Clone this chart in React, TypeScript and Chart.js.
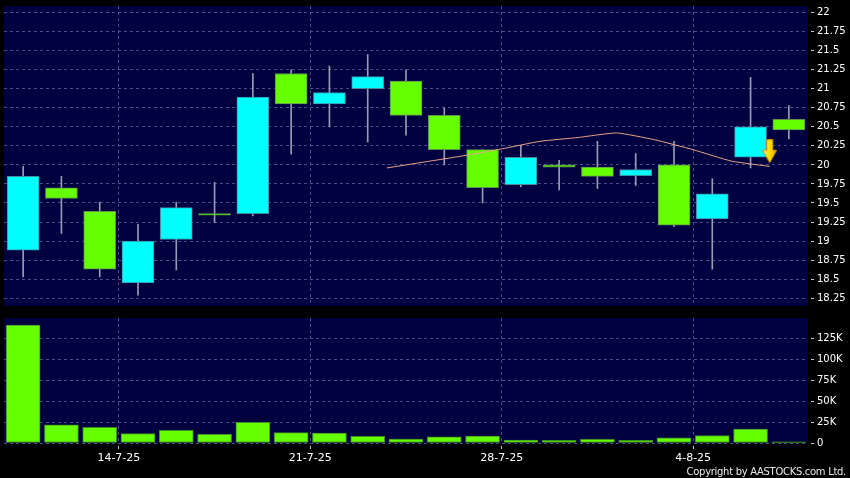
import React, { useEffect, useRef } from 'react';
import { Chart, registerables } from 'chart.js';
Chart.register(...registerables);

// ---- data ----
const dates = ['9-7-25', '10-7-25', '11-7-25', '14-7-25', '15-7-25', '16-7-25', '17-7-25', '18-7-25', '21-7-25', '22-7-25', '23-7-25', '24-7-25', '25-7-25', '28-7-25', '29-7-25', '30-7-25', '31-7-25', '1-8-25', '4-8-25', '5-8-25', '6-8-25'];
const openP = [18.88, 19.70, 19.39, 18.45, 19.02, 19.36, 19.36, 21.20, 20.80, 21.00, 21.10, 20.65, 20.20, 19.74, 20.00, 19.97, 19.86, 20.00, 19.29, 20.10, 20.60];
const highP = [19.98, 19.85, 19.51, 19.22, 19.51, 19.77, 21.20, 21.25, 21.30, 21.45, 21.25, 20.75, 20.20, 20.25, 20.06, 20.31, 20.15, 20.31, 19.82, 21.15, 20.78];
const lowP = [18.53, 19.10, 18.53, 18.29, 18.62, 19.24, 19.33, 20.14, 20.50, 20.30, 20.39, 20.00, 19.50, 19.71, 19.67, 19.69, 19.73, 19.19, 18.63, 19.96, 20.34];
const closeP = [19.85, 19.56, 18.63, 19.00, 19.44, 19.34, 20.89, 20.80, 20.95, 21.16, 20.65, 20.20, 19.70, 20.10, 19.97, 19.85, 19.94, 19.21, 19.62, 20.50, 20.46];
const volume = [140500, 21800, 18600, 11100, 15000, 10300, 24500, 12300, 11900, 7900, 4800, 7500, 8300, 3600, 3100, 4300, 3100, 6300, 8700, 16700, 1500];
const maValues = [19.96, 20.04, 20.12, 20.21, 20.31, 20.36, 20.42, 20.33, 20.20, 20.05, 19.98];
const maStartIndex = 9;
const signalIndex = 19;
const signalPrice = 20.18;
const priceTicks = [18.25, 18.5, 18.75, 19, 19.25, 19.5, 19.75, 20, 20.25, 20.5, 20.75, 21, 21.25, 21.5, 21.75, 22];
const volumeTicks = [0, 25000, 50000, 75000, 100000, 125000];
const weekLabels = ['14-7-25', '21-7-25', '28-7-25', '4-8-25'];

// ---- styles ----
const FONT = 'DejaVu Sans';
const NAVY = '#000040';
const GRID = '#4b4b88';
const UP = '#00ffff';
const DOWN = '#66ff00';
const UP_BORDER = '#3f8f9f';
const DOWN_BORDER = '#5f8f4f';
const WICK = '#9a9ab4';
const TICKC = '#c8c8c8';

const weekPos = weekLabels.map((l) => dates.indexOf(l) - 0.5);

const plotBg = {
  id: 'plotBg',
  beforeDraw(chart: any) {
    const { ctx, chartArea: a } = chart;
    ctx.save();
    ctx.fillStyle = NAVY;
    ctx.fillRect(a.left, a.top, a.right - a.left, a.bottom - a.top);
    ctx.restore();
  },
};

function makeArrow() {
  const c = document.createElement('canvas');
  c.width = 15;
  c.height = 24;
  const g = c.getContext('2d')!;
  const grad = g.createLinearGradient(0, 0, 15, 0);
  grad.addColorStop(0, '#fff7a8');
  grad.addColorStop(0.45, '#ffe000');
  grad.addColorStop(1, '#d9a200');
  g.fillStyle = grad;
  g.beginPath();
  g.moveTo(4.5, 0.5);
  g.lineTo(10.5, 0.5);
  g.lineTo(10.5, 11);
  g.lineTo(14.5, 11);
  g.lineTo(7.5, 23.5);
  g.lineTo(0.5, 11);
  g.lineTo(4.5, 11);
  g.closePath();
  g.fill();
  g.strokeStyle = '#c99400';
  g.lineWidth = 1;
  g.stroke();
  return c;
}

function xScale(showLabels: boolean) {
  return {
    type: 'linear',
    min: -0.5,
    max: 20.5,
    offset: false,
    afterBuildTicks: (s: any) => {
      s.ticks = weekPos.map((v) => ({ value: v }));
    },
    grid: {
      color: GRID,
      lineWidth: 1,
      offset: false,
      drawTicks: showLabels,
      tickLength: 6,
      tickColor: TICKC,
      tickBorderDash: [0, 3, 3, 30],
    },
    border: { display: false, dash: [3, 3] },
    ticks: {
      display: showLabels,
      color: '#ffffff',
      font: { family: FONT, size: 11 },
      padding: 3,
      maxRotation: 0,
      autoSkip: false,
      callback: (_v: any, i: number) => weekLabels[i],
    },
    afterFit: (s: any) => {
      s.height = showLabels ? 35 : 0;
      s.paddingLeft = 0;
      s.paddingRight = 0;
    },
  };
}

function yScale(min: number, max: number, tickVals: number[], fmt: (v: number) => string) {
  return {
    type: 'linear',
    position: 'right',
    min,
    max,
    beginAtZero: false,
    afterBuildTicks: (s: any) => {
      s.ticks = tickVals.map((v) => ({ value: v }));
    },
    grid: {
      color: GRID,
      lineWidth: 1,
      tickLength: 6,
      tickColor: TICKC,
      tickBorderDash: [0, 3, 3, 30],
    },
    border: { display: false, dash: [3, 3] },
    ticks: {
      color: '#ffffff',
      font: { family: FONT, size: 10 },
      padding: 3,
      autoSkip: false,
      callback: (v: any) => fmt(Number(v)),
    },
    afterFit: (s: any) => {
      s.width = 42;
      s.paddingTop = 0;
      s.paddingBottom = 0;
    },
  };
}

export default function App() {
  const topRef = useRef<HTMLCanvasElement>(null);
  const botRef = useRef<HTMLCanvasElement>(null);

  useEffect(() => {
    const arrow = makeArrow();
    const isUp = dates.map((_, i) => closeP[i] >= openP[i]);

    const c1 = new Chart(topRef.current as HTMLCanvasElement, {
      type: 'bar',
      data: {
        datasets: [
          {
            type: 'scatter',
            data: [{ x: signalIndex + 0.5, y: signalPrice }],
            pointStyle: arrow,
            pointRadius: 0.5,
            pointBorderWidth: 0,
            order: -1,
          } as any,
          {
            type: 'line',
            data: maValues.map((v, k) => ({ x: maStartIndex + k + 0.5, y: v })),
            borderColor: '#eaa088',
            borderWidth: 1,
            pointRadius: 0,
            pointBorderWidth: 0,
            tension: 0.15,
            order: 0,
          } as any,
          {
            data: dates.map((_, i) => ({ x: i, y: [openP[i], closeP[i]] })),
            backgroundColor: isUp.map((u) => (u ? UP : DOWN)),
            borderColor: isUp.map((u) => (u ? UP_BORDER : DOWN_BORDER)),
            borderWidth: 1,
            borderSkipped: false,
            barThickness: 32,
            grouped: false,
            order: 1,
          } as any,
          {
            data: dates.map((_, i) => ({ x: i, y: [lowP[i], highP[i]] })),
            backgroundColor: WICK,
            borderWidth: 0,
            barThickness: 1,
            grouped: false,
            order: 2,
          } as any,
        ],
      },
      options: {
        responsive: false,
        animation: false,
        events: [],
        layout: { padding: { left: 4, right: 0, top: 6, bottom: 4 } },
        plugins: { legend: { display: false }, tooltip: { enabled: false } },
        scales: {
          x: xScale(false) as any,
          y: yScale(18.147, 22.087, priceTicks, (v) => String(v)) as any,
        },
      },
      plugins: [plotBg],
    });

    const c2 = new Chart(botRef.current as HTMLCanvasElement, {
      type: 'bar',
      data: {
        datasets: [
          {
            data: dates.map((_, i) => ({ x: i, y: volume[i] })),
            backgroundColor: DOWN,
            borderColor: '#3f8f1f',
            borderWidth: 1,
            borderSkipped: false,
            barThickness: 34,
            grouped: false,
          } as any,
        ],
      },
      options: {
        responsive: false,
        animation: false,
        events: [],
        layout: { padding: { left: 4, right: 0, top: 8, bottom: 0 } },
        plugins: { legend: { display: false }, tooltip: { enabled: false } },
        scales: {
          x: xScale(true) as any,
          y: yScale(0, 149000, volumeTicks, (v) => (v === 0 ? '0' : v / 1000 + 'K')) as any,
        },
      },
      plugins: [plotBg],
    });

    return () => {
      c1.destroy();
      c2.destroy();
    };
  }, []);

  return (
    <div style={{ position: 'fixed', left: 0, top: 0, width: 850, height: 478, background: '#000', overflow: 'hidden' }}>
      <canvas ref={topRef} width={850} height={310} style={{ position: 'absolute', left: 0, top: 0 }} />
      <canvas ref={botRef} width={850} height={168} style={{ position: 'absolute', left: 0, top: 310 }} />
      <div
        style={{
          position: 'absolute',
          right: 4,
          top: 466.5,
          fontFamily: FONT,
          fontSize: 10,
          lineHeight: '10px',
          letterSpacing: '-0.3px',
          color: '#e8e8e8',
          whiteSpace: 'nowrap',
        }}
      >
        Copyright by AASTOCKS.com Ltd.
      </div>
    </div>
  );
}
